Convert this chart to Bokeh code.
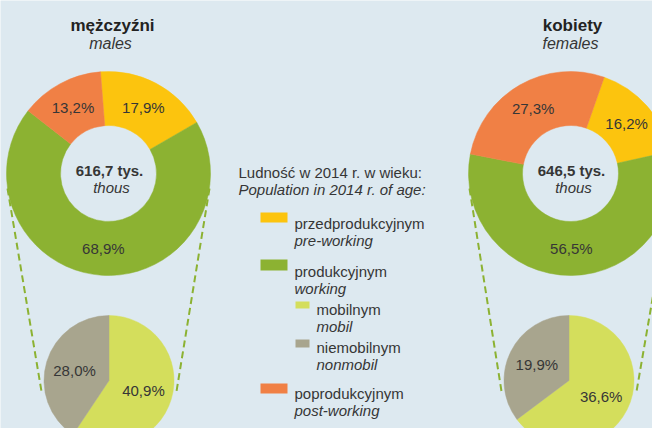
import math
from bokeh.plotting import figure
from bokeh.models import Range1d
from bokeh.core.properties import value
from bokeh.embed import file_html
from bokeh.resources import INLINE

# ---------------- data ----------------
age_groups = ["przedprodukcyjnym", "produkcyjnym", "poprodukcyjnym"]
age_groups_en = ["pre-working", "working", "post-working"]
males_share = [17.9, 68.9, 13.2]
females_share = [16.2, 56.5, 27.3]
working_groups = ["mobilnym", "niemobilnym"]
working_groups_en = ["mobil", "nonmobil"]
males_working = [40.9, 28.0]
females_working = [36.6, 19.9]
totals = ["616,7 tys.", "646,5 tys."]
titles = ["mężczyźni", "kobiety"]
titles_en = ["males", "females"]

# ---------------- style ----------------
BG = "#dde9f0"
C_PRE = "#fcc40e"
C_WORK = "#8cb232"
C_POST = "#f08045"
C_MOB = "#d4de5c"
C_NON = "#a8a58e"
TXT = "#363636"
FONT = value("Liberation Sans")

W, H = 652, 428
p = figure(width=W, height=H, x_range=Range1d(0, W), y_range=Range1d(444 - H, 444),
           output_backend="svg", toolbar_location=None,
           x_axis_location=None, y_axis_location=None, min_border=0)
p.grid.visible = False
p.outline_line_color = None
p.background_fill_color = BG
p.border_fill_color = BG


def Y(py):
    return 444 - py


def fmt(v):
    return f"{v:.1f}".replace(".", ",") + "%"


def ang(theta):  # degrees clockwise from 12 o'clock -> bokeh radians
    return math.radians(90 - theta)


def polar(cx, cy, r, theta):
    t = math.radians(theta)
    return cx + r * math.sin(t), Y(cy) + r * math.cos(t)


# layout of the two panels
panels = [
    dict(cx=108, cy=173, off=-4.5, pcx=108.5, pcy=380, share=males_share, work=males_working,
         total=totals[0], title=titles[0], title_en=titles_en[0], tx=112),
    dict(cx=570, cy=173, off=19.3, pcx=568.5, pcy=380, share=females_share, work=females_working,
         total=totals[1], title=titles[1], title_en=titles_en[1], tx=572),
]
R_OUT, R_IN, R_PIE = 102, 48, 65

for pn in panels:
    cx, cy = pn["cx"], pn["cy"]
    # dashed connectors
    for s in (-1, 1):
        x0, y0 = cx + s * 101, Y(cy + 15)
        x1, y1 = pn["pcx"] + s * 67, Y(pn["pcy"] + 14)
        p.segment(x0=[x0], y0=[y0], x1=[x1], y1=[y1], line_color=C_WORK,
                  line_width=2, line_dash="7 4")

    # donut
    vals = pn["share"]
    cols = [C_PRE, C_WORK, C_POST]
    starts, ends, mids = [], [], []
    t = pn["off"]
    for v in vals:
        span = v / sum(vals) * 360
        starts.append(t)
        ends.append(t + span)
        mids.append(t + span / 2)
        t += span
    p.annular_wedge(x=[cx] * 3, y=[Y(cy)] * 3, inner_radius=R_IN, outer_radius=R_OUT,
                    start_angle=[ang(a) for a in starts], end_angle=[ang(a) for a in ends],
                    direction="clock", fill_color=cols, line_color=cols, line_width=0.5)
    lx, ly = zip(*[polar(cx, cy, 75, m) for m in mids])
    p.text(x=list(lx), y=list(ly), text=[fmt(v) for v in vals], text_font=FONT,
           text_font_size="15px", text_color=TXT, text_align="center", text_baseline="middle")

    # centre text
    p.text(x=[cx + 1], y=[Y(170)], text=[pn["total"]], text_font=FONT, text_font_size="15px",
           text_font_style="bold", text_color=TXT, text_align="center", text_baseline="alphabetic")
    p.text(x=[cx + 3], y=[Y(187)], text=["thous"], text_font=FONT, text_font_size="15px",
           text_font_style="italic", text_color=TXT, text_align="center", text_baseline="alphabetic")

    # titles
    p.text(x=[pn["tx"]], y=[Y(25)], text=[pn["title"]], text_font=FONT, text_font_size="17px",
           text_font_style="bold", text_color="#222222", text_align="center",
           text_baseline="alphabetic")
    p.text(x=[pn["tx"] - 2], y=[Y(43)], text=[pn["title_en"]], text_font=FONT,
           text_font_size="16px", text_font_style="italic", text_color=TXT,
           text_align="center", text_baseline="alphabetic")

    # pie of the working-age split
    wv = pn["work"]
    wcols = [C_MOB, C_NON]
    ws, we, wm = [], [], []
    t = 0.0
    for v in wv:
        span = v / sum(wv) * 360
        ws.append(t)
        we.append(t + span)
        wm.append(t + span / 2)
        t += span
    p.wedge(x=[pn["pcx"]] * 2, y=[Y(pn["pcy"])] * 2, radius=R_PIE,
            start_angle=[ang(a) for a in ws], end_angle=[ang(a) for a in we],
            direction="clock", fill_color=wcols, line_color=wcols, line_width=0.5)
    plx, ply = zip(*[polar(pn["pcx"], pn["pcy"], 36, m) for m in wm])
    p.text(x=list(plx), y=list(ply), text=[fmt(v) for v in wv], text_font=FONT,
           text_font_size="15px", text_color=TXT, text_align="center", text_baseline="middle")

# ---------------- legend ----------------
p.text(x=[238], y=[Y(172)], text=["Ludność w 2014 r. w wieku:"], text_font=FONT,
       text_font_size="15px", text_color=TXT, text_baseline="alphabetic")
p.text(x=[238], y=[Y(189)], text=["Population in 2014 r. of age:"], text_font=FONT,
       text_font_size="15px", text_font_style="italic", text_color=TXT,
       text_baseline="alphabetic")

# main entries: (swatch top, swatch bottom, text baseline)
main_rows = [(212, 222, 223), (259, 270, 271), (383, 393, 393)]
main_cols = [C_PRE, C_WORK, C_POST]
p.quad(left=[260] * 3, right=[287] * 3, top=[Y(r[0]) for r in main_rows],
       bottom=[Y(r[1]) for r in main_rows], fill_color=main_cols, line_color=None)
p.text(x=[294] * 3, y=[Y(r[2]) for r in main_rows], text=age_groups, text_font=FONT,
       text_font_size="15px", text_color=TXT, text_baseline="alphabetic")
p.text(x=[294] * 3, y=[Y(r[2] + 17) for r in main_rows], text=age_groups_en, text_font=FONT,
       text_font_size="15px", text_font_style="italic", text_color=TXT,
       text_baseline="alphabetic")

sub_rows = [(301, 308, 309), (339, 347, 347)]
sub_cols = [C_MOB, C_NON]
p.quad(left=[295] * 2, right=[309] * 2, top=[Y(r[0]) for r in sub_rows],
       bottom=[Y(r[1]) for r in sub_rows], fill_color=sub_cols, line_color=None)
p.text(x=[316] * 2, y=[Y(r[2]) for r in sub_rows], text=working_groups, text_font=FONT,
       text_font_size="15px", text_color=TXT, text_baseline="alphabetic")
p.text(x=[316] * 2, y=[Y(r[2] + 17) for r in sub_rows], text=working_groups_en, text_font=FONT,
       text_font_size="15px", text_font_style="italic", text_color=TXT,
       text_baseline="alphabetic")

open("out.html", "w").write(file_html(p, INLINE))
